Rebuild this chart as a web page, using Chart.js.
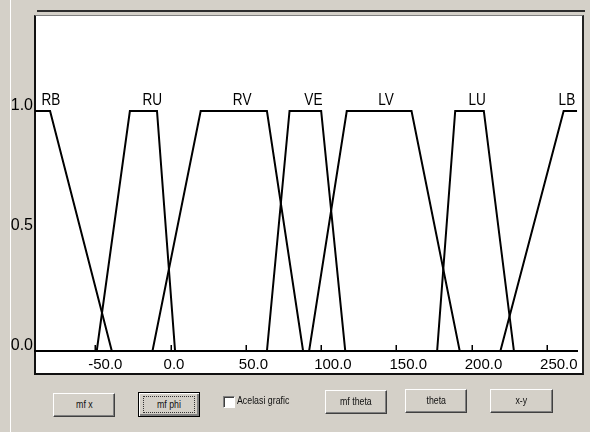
<!DOCTYPE html>
<html>
<head>
<meta charset="utf-8">
<script src="https://cdn.jsdelivr.net/npm/chart.js@4.4.1/dist/chart.umd.min.js"></script>
<style>
  html, body { margin: 0; padding: 0; }
  body { width: 590px; height: 432px; background: #d4d0c8; position: relative; overflow: hidden;
         font-family: "Liberation Sans", Arial, sans-serif; }
  #edge { position: absolute; left: 10px; top: 0; width: 1px; height: 432px; background: #fff; }
  #topline { position: absolute; left: 37px; top: 10px; width: 548px; height: 2px; background: #2c2c2c; }
  #plotbox { position: absolute; left: 34px; top: 15px; width: 546px; height: 357px; background: #fff;
             border-left: 2px solid #111; border-right: 2px solid #222; border-bottom: 2px solid #111;
             border-top: 1px solid #808080; }
  #chart { position: absolute; left: 0; top: 0; }
  .btn { position: absolute; box-sizing: border-box; height: 24px; width: 62px; background: #d4d0c8;
         border-top: 1px solid #fff; border-left: 1px solid #fff; border-right: 1px solid #404040;
         border-bottom: 1px solid #404040; box-shadow: inset -1px -1px 0 #808080;
         font-size: 11px; color: #111; text-align: center; line-height: 21px; white-space: nowrap; }
  .btn span { display: inline-block; transform: scaleX(0.8); }
  .btn.def { border: 1px solid #000; box-shadow: inset 1px 1px 0 #fff, inset -2px -2px 0 #808080; }
  .btn.def i { display: inline-block; border: 1px dotted #333; width: 50px; line-height: 15px; margin-top: 3px; font-style: normal; }
  #chk { position: absolute; left: 223px; top: 396px; width: 12px; height: 12px; box-sizing: border-box;
         background: #fff; border-top: 1px solid #808080; border-left: 1px solid #808080;
         border-right: 1px solid #fff; border-bottom: 1px solid #fff; box-shadow: inset 1px 1px 0 #404040; }
  #chklbl { position: absolute; left: 237px; top: 394px; font-size: 11px; color: #111;
            transform: scaleX(0.8); transform-origin: left center; white-space: nowrap; }
</style>
</head>
<body>
<div id="edge"></div>
<div id="topline"></div>
<div id="plotbox"></div>
<canvas id="chart" width="590" height="432"></canvas>

<div class="btn" style="left:53px; top:393px;"><span>mf x</span></div>
<div class="btn def" style="left:138px; top:392px; height:25px;"><i><span>mf phi</span></i></div>
<div id="chk"></div>
<div id="chklbl">Acelasi grafic</div>
<div class="btn" style="left:325px; top:390px;"><span>mf theta</span></div>
<div class="btn" style="left:405px; top:389px;"><span>theta</span></div>
<div class="btn" style="left:490px; top:389px; width:63px;"><span>x-y</span></div>

<script>
// membership function names and breakpoints [x, degree]
const setNames = ['RB', 'RU', 'RV', 'VE', 'LV', 'LU', 'LB'];
const RB = [[-90, 1], [-80, 1], [-39, 0]];
const RU = [[-49, 0], [-27, 1], [-9, 1], [3, 0]];
const RV = [[-12, 0], [20, 1], [64, 1], [88, 0]];
const VE = [[64, 0], [79, 1], [100, 1], [116, 0]];
const LV = [[92, 0], [117, 1], [160, 1], [192, 0]];
const LU = [[177, 0], [189, 1], [208, 1], [228, 0]];
const LB = [[219, 0], [261, 1], [270, 1]];
const sets = [RB, RU, RV, VE, LV, LU, LB];

const xTicks = [-50, 0, 50, 100, 150, 200, 250];
const yTicks = [0, 0.5, 1];

// names drawn over the plateau of each set (squeezed, the original font is narrow)
const setLabels = {
    id: 'setLabels',
    afterDatasetsDraw(chart) {
        const { ctx, chartArea } = chart;
        const xs = chart.scales.x, ys = chart.scales.y;
        const squeeze = 0.8;
        ctx.save();
        ctx.font = '17px "Liberation Sans", Arial, sans-serif';
        ctx.fillStyle = '#000';
        ctx.textBaseline = 'alphabetic';
        ctx.textAlign = 'left';
        setNames.forEach((name, i) => {
            const top = sets[i].filter(p => p[1] === 1);
            const mid = (top[0][0] + top[top.length - 1][0]) / 2;
            const w = ctx.measureText(name).width * squeeze;
            let px = xs.getPixelForValue(mid) - 1;
            px = Math.min(px, chartArea.right - w - 2);
            ctx.save();
            ctx.translate(px, ys.getPixelForValue(1) - 6);
            ctx.scale(squeeze, 1);
            ctx.fillText(name, 0, 0);
            ctx.restore();
        });
        ctx.restore();
    }
};

// short tick marks standing up from the x axis
const upTicks = {
    id: 'upTicks',
    afterDraw(chart) {
        const { ctx } = chart;
        const xs = chart.scales.x, ys = chart.scales.y;
        const y0 = ys.getPixelForValue(0);
        ctx.save();
        ctx.strokeStyle = '#000';
        ctx.lineWidth = 1.5;
        xTicks.forEach(v => {
            const px = Math.round(xs.getPixelForValue(v)) + 0.25;
            ctx.beginPath();
            ctx.moveTo(px, y0);
            ctx.lineTo(px, y0 - 6);
            ctx.stroke();
        });
        ctx.restore();
    }
};

const ctx = document.getElementById('chart').getContext('2d');
new Chart(ctx, {
    type: 'line',
    data: {
        datasets: sets.map((s, i) => ({
            label: setNames[i],
            data: s.map(p => ({ x: p[0], y: p[1] })),
            borderColor: '#000',
            borderWidth: 2,
            pointRadius: 0,
            tension: 0,
            fill: false
        }))
    },
    options: {
        responsive: false,
        animation: false,
        devicePixelRatio: 1,
        layout: { padding: { left: 0, right: 7, top: 15, bottom: 59 } },
        plugins: { legend: { display: false }, tooltip: { enabled: false } },
        scales: {
            x: {
                type: 'linear',
                min: -90,
                max: 270,
                afterBuildTicks: s => { s.ticks = xTicks.map(v => ({ value: v })); },
                afterFit: s => { s.height = 22; },
                grid: { drawOnChartArea: false, drawTicks: false },
                border: { display: true, color: '#000', width: 2 },
                ticks: {
                    align: 'start',
                    labelOffset: -7,
                    padding: 5,
                    color: '#000',
                    maxRotation: 0,
                    autoSkip: false,
                    font: { family: '"Liberation Sans", Arial, sans-serif', size: 15 },
                    callback: v => Number(v).toFixed(1)
                }
            },
            y: {
                min: 0,
                max: 1.4,
                afterBuildTicks: s => { s.ticks = yTicks.map(v => ({ value: v })); },
                afterFit: s => { s.width = 35; },
                grid: { display: false, drawTicks: false },
                border: { display: false },
                ticks: {
                    padding: 2,
                    labelOffset: -5,
                    color: '#000',
                    font: { family: '"Liberation Sans", Arial, sans-serif', size: 16 },
                    callback: v => Number(v).toFixed(1)
                }
            }
        }
    },
    plugins: [setLabels, upTicks]
});
</script>
</body>
</html>
